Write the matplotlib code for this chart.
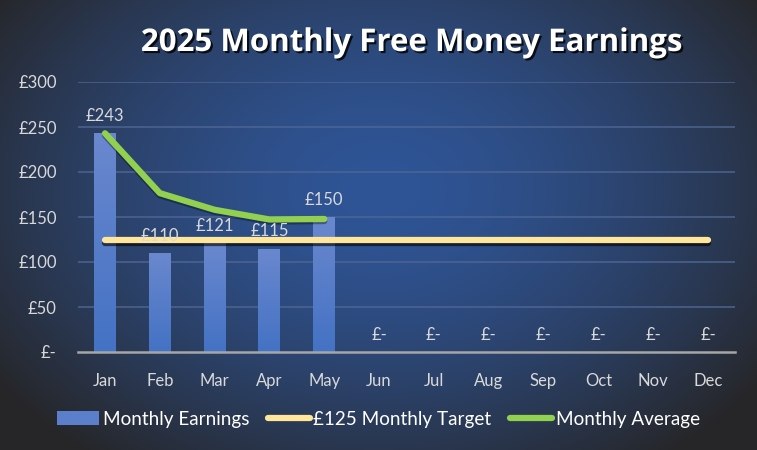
import numpy as np
import matplotlib
matplotlib.use("Agg")
import matplotlib.pyplot as plt
from matplotlib import patheffects as pe
from matplotlib.colors import LinearSegmentedColormap
from matplotlib.patches import Rectangle
from matplotlib.lines import Line2D

months = ["Jan", "Feb", "Mar", "Apr", "May", "Jun", "Jul", "Aug", "Sep", "Oct", "Nov", "Dec"]
earnings = [243, 110, 121, 115, 150, 0, 0, 0, 0, 0, 0, 0]
target = [125] * 12
average = [243, 176.5, 158, 147.25, 147.8]
yticks = [0, 50, 100, 150, 200, 250, 300]
ytick_labels = ["£-", "£50", "£100", "£150", "£200", "£250", "£300"]

plt.rcParams['font.family'] = ['Lato', 'DejaVu Sans']

W, H = 757, 450
fig = plt.figure(figsize=(W / 100, H / 100), dpi=100)

# background radial gradient
bg = fig.add_axes([0, 0, 1, 1])
bg.set_axis_off()
yy, xx = np.mgrid[0:H, 0:W]
cx, cy = W * 0.5, H * 0.42
r = np.sqrt(((xx - cx) / (W * 0.62)) ** 2 + ((yy - cy) / (H * 0.75)) ** 2)
r = np.clip(r, 0, 1)
c_in = np.array([0x2F, 0x55, 0x97]) / 255
c_out = np.array([0x26, 0x26, 0x28]) / 255
t = (r ** 1.6)[..., None]
img = c_in * (1 - t) + c_out * t
bg.imshow(img, extent=(0, 1, 0, 1), aspect='auto', origin='upper')
bg.set_xlim(0, 1)
bg.set_ylim(0, 1)

ax = fig.add_axes([77.6 / W, 1 - 352 / H, (735.4 - 77.6) / W, (352 - 82) / H])
ax.patch.set_alpha(0)
x = np.arange(len(months))
ax.set_xlim(-0.5, 11.5)
ax.set_ylim(0, 300)

for y in yticks[1:]:
    ax.axhline(y, color='#4F6694', lw=1.3, alpha=0.8, zorder=1)

bar_cmap = LinearSegmentedColormap.from_list('b', ['#4472C4', '#6A88CE'])
grad = np.linspace(0, 1, 256)[:, None]
bw = 0.4
for xi, v in zip(x, earnings):
    if v > 0:
        rect = Rectangle((xi - bw / 2, 0), bw, v, facecolor='none', edgecolor='none')
        ax.add_patch(rect)
        im = ax.imshow(grad, cmap=bar_cmap, extent=(xi - bw / 2, xi + bw / 2, 0, v),
                       aspect='auto', origin='lower', zorder=2)
        im.set_clip_path(rect)
    lab = "£-" if v == 0 else f"£{v}"
    ax.annotate(lab, (xi, v), xytext=(0, 6.5), textcoords='offset points',
                ha='center', va='bottom', color='#D9D9D9', fontsize=12, zorder=6)

ax.plot(x, target, color='#FFE699', lw=4.5, solid_capstyle='round', zorder=4,
        path_effects=[pe.SimpleLineShadow(offset=(0, -2.5), shadow_color='black', alpha=0.6),
                      pe.Normal()])
ax.plot(x[:len(average)], average, color='#92D050', lw=4.5, solid_capstyle='round',
        solid_joinstyle='round', zorder=5,
        path_effects=[pe.SimpleLineShadow(offset=(0, -1.5), shadow_color='black', alpha=0.35),
                      pe.Normal()])

ax.set_xticks(x)
ax.set_xticklabels(months)
ax.set_yticks(yticks)
ax.set_yticklabels(ytick_labels)
ax.tick_params(axis='both', length=0, colors='#D9D9D9', labelsize=12)
ax.tick_params(axis='x', pad=15)
ax.tick_params(axis='y', pad=15)
for s in ['top', 'right', 'left']:
    ax.spines[s].set_visible(False)
ax.spines['bottom'].set_color('#A6A6A6')
ax.spines['bottom'].set_linewidth(1.8)
ax.spines['bottom'].set_zorder(3)

fig.text(412 / W, 1 - 43 / H, "2025 Monthly Free Money Earnings", ha='center', va='center',
         color='white', fontsize=22.5, fontweight='bold', family=['Open Sans', 'DejaVu Sans'],
         path_effects=[pe.withSimplePatchShadow(offset=(1.5, -1.5), shadow_rgbFace='black', alpha=0.8)])

handles = [Rectangle((0, 0), 1, 1, facecolor='#5B7FCB'),
           Line2D([0], [0], color='#FFE699', lw=4.5, solid_capstyle='round'),
           Line2D([0], [0], color='#92D050', lw=4.5, solid_capstyle='round')]
leg = fig.legend(handles, ["Monthly Earnings", "£125 Monthly Target", "Monthly Average"],
                 loc='center', bbox_to_anchor=(0.5, 1 - 419 / H), ncol=3, frameon=False,
                 fontsize=13.6, handlelength=2.2, handletextpad=0.2, columnspacing=1.0,
                 handleheight=0.75)
for txt in leg.get_texts():
    txt.set_color('white')

fig.savefig("out.png", dpi=100)
